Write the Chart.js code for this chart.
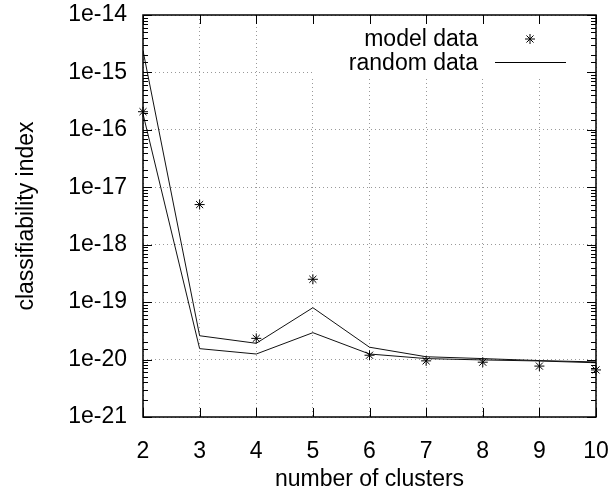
<!DOCTYPE html>
<html>
<head>
<meta charset="utf-8">
<script src="https://cdn.jsdelivr.net/npm/chart.js@4/dist/chart.umd.min.js"></script>
<style>
  body { margin: 0; background: #fff; }
</style>
</head>
<body>
<canvas id="chart" width="616" height="493"></canvas>
<script>
// values
const clusters = [2, 3, 4, 5, 6, 7, 8, 9, 10];
const modelData = [2.07e-16, 5.0e-18, 2.34e-20, 2.5e-19, 1.19e-20, 9.5e-21, 9.0e-21, 7.7e-21, 6.6e-21];
const randomUpper = [2.4e-15, 2.6e-20, 1.92e-20, 8.0e-20, 1.64e-20, 1.12e-20, 1.04e-20, 9.6e-21, 9.1e-21];
const randomLower = [1.9e-16, 1.55e-20, 1.25e-20, 2.94e-20, 1.25e-20, 1.04e-20, 9.85e-21, 9.45e-21, 8.8e-21];
const yExponents = [-21, -20, -19, -18, -17, -16, -15, -14];
const yTickLabels = ['1e-21', '1e-20', '1e-19', '1e-18', '1e-17', '1e-16', '1e-15', '1e-14'];

const FONT = '"Liberation Sans", Arial, Helvetica, sans-serif';
const FONT_SIZE = 23;
Chart.defaults.font.family = FONT;
Chart.defaults.color = '#000';

function isDecade(v) {
    const l = Math.log10(v);
    return Math.abs(l - Math.round(l)) < 1e-6;
}

function toPoints(values) {
    return clusters.map((c, i) => ({ x: c, y: values[i] }));
}

// gnuplot style frame: inward ticks on all four sides + a key box in the corner
const framePlugin = {
    id: 'frame',
    beforeDatasetsDraw(chart) {
        const ctx = chart.ctx;
        ctx.save();
        ctx.fillStyle = '#fff';
        ctx.fillRect(312, 16, 276, 60);
        ctx.fillStyle = '#000';
        ctx.font = FONT_SIZE + 'px ' + FONT;
        ctx.textAlign = 'right';
        ctx.textBaseline = 'alphabetic';
        ctx.fillText('model data', 478, 46);
        ctx.fillText('random data', 478, 70);
        ctx.strokeStyle = '#000';
        ctx.lineWidth = 1;
        Chart.helpers.drawPoint(ctx, { pointStyle: 'star', radius: 5, rotation: 0, borderWidth: 1 }, 530, 39);
        ctx.beginPath();
        ctx.moveTo(495, 62.5);
        ctx.lineTo(566, 62.5);
        ctx.stroke();
        ctx.restore();
    },
    afterDatasetsDraw(chart) {
        const { ctx, chartArea: a, scales: { x, y } } = chart;
        ctx.save();
        ctx.strokeStyle = '#000';
        ctx.lineWidth = 1;
        ctx.beginPath();
        y.ticks.forEach(t => {
            const py = Math.round(y.getPixelForValue(t.value)) + 0.5;
            const len = isDecade(t.value) ? 9 : 5;
            ctx.moveTo(a.left, py); ctx.lineTo(a.left + len, py);
            ctx.moveTo(a.right, py); ctx.lineTo(a.right - len, py);
        });
        x.ticks.forEach(t => {
            const px = Math.round(x.getPixelForValue(t.value)) + 0.5;
            ctx.moveTo(px, a.bottom); ctx.lineTo(px, a.bottom - 9);
            ctx.moveTo(px, a.top); ctx.lineTo(px, a.top + 9);
        });
        ctx.stroke();
        ctx.lineWidth = 1.5;
        ctx.strokeRect(a.left, a.top, a.right - a.left, a.bottom - a.top);
        ctx.restore();
    }
};

new Chart('chart', {
    type: 'scatter',
    data: {
        datasets: [{
            label: 'model data',
            data: toPoints(modelData),
            pointStyle: 'star',
            pointRadius: 5,
            pointBorderWidth: 1,
            borderColor: '#000',
            backgroundColor: '#000',
            showLine: false,
            clip: false
        }, {
            label: 'random data',
            data: toPoints(randomUpper),
            showLine: true,
            pointRadius: 0,
            borderWidth: 1,
            borderColor: '#111'
        }, {
            label: 'random data (lower)',
            data: toPoints(randomLower),
            showLine: true,
            pointRadius: 0,
            borderWidth: 1,
            borderColor: '#111'
        }]
    },
    options: {
        responsive: false,
        animation: false,
        layout: { padding: { top: 15, right: 20, left: 0, bottom: 0 } },
        plugins: {
            legend: { display: false },
            tooltip: { enabled: false }
        },
        scales: {
            x: {
                type: 'linear',
                min: 2,
                max: 10,
                ticks: { stepSize: 1, padding: 21, color: '#000', font: { size: FONT_SIZE } },
                grid: { color: '#999', drawTicks: false, lineWidth: 1 },
                border: { display: false, dash: [1, 3] },
                title: {
                    display: true,
                    text: 'number of clusters',
                    color: '#000',
                    font: { size: FONT_SIZE },
                    padding: { top: 0, bottom: 0 }
                },
                afterFit: s => {
                    s.height = 76;
                    s.paddingLeft = 0;
                    s.paddingRight = 0;
                }
            },
            y: {
                type: 'logarithmic',
                min: 1e-21,
                max: 1e-14,
                ticks: {
                    autoSkip: false,
                    padding: 16,
                    color: '#000',
                    font: { size: FONT_SIZE },
                    callback: function (value) {
                        if (!isDecade(value)) return '';
                        const i = yExponents.indexOf(Math.round(Math.log10(value)));
                        return i >= 0 ? yTickLabels[i] : '';
                    }
                },
                grid: {
                    color: ctx => (ctx.tick && isDecade(ctx.tick.value)) ? '#999' : 'rgba(0,0,0,0)',
                    drawTicks: false,
                    lineWidth: 1
                },
                border: { display: false, dash: [1, 3] },
                title: {
                    display: true,
                    text: 'classifiability index',
                    color: '#000',
                    font: { size: FONT_SIZE },
                    padding: { top: 13, bottom: 0 }
                },
                afterFit: s => {
                    s.width = 143;
                    s.paddingTop = 0;
                    s.paddingBottom = 0;
                }
            }
        }
    },
    plugins: [framePlugin]
});
</script>
</body>
</html>
